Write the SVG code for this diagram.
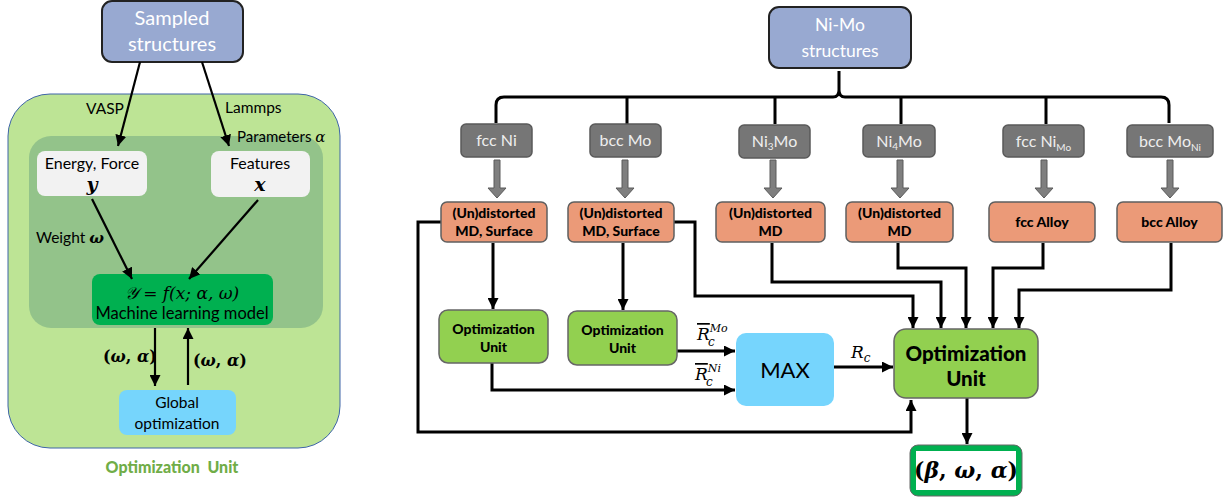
<svg xmlns="http://www.w3.org/2000/svg" width="1228" height="499" viewBox="0 0 1228 499">
<style>
.t{font-family:Lato,"Open Sans","Liberation Sans",sans-serif}
.m{font-family:"DejaVu Serif","Liberation Serif",serif;font-style:italic}
.mu{font-family:"DejaVu Serif","Liberation Serif",serif;font-style:normal;font-weight:bold}
.mu tspan{font-style:italic}
.wt{fill:#ffffff}
.ln{fill:none;stroke:#000;stroke-width:2.2;marker-end:url(#ah)}
.cn{fill:none;stroke:#000;stroke-width:3;marker-end:url(#ah)}
.gray rect{fill:#767676;stroke:#5a5a5a;stroke-width:1.5}
.gray text{fill:#eeeeee;font-size:16px}
.org rect{fill:#eb9a78;stroke:#5f5f5f;stroke-width:1.5}
.org text{font-size:14px;font-weight:900;fill:#000}
.opt rect{fill:#92d050;stroke:#666;stroke-width:1.5}
.opt text{font-weight:900}
.ga{fill:#7f7f7f;stroke:#5a5a5a;stroke-width:1}
</style>
<defs>
<marker id="ah" viewBox="0 0 10 10" refX="10" refY="5" markerWidth="11" markerHeight="11" markerUnits="userSpaceOnUse" orient="auto">
<path d="M0,0 L10,5 L0,10 Z" fill="#000"/>
</marker>
</defs>

<!-- LEFT DIAGRAM -->
<g id="opt-unit-frame">
<rect x="8" y="94" width="332" height="354" rx="42" fill="#bde495" stroke="#3e64a8" stroke-width="1"/>
<rect x="29" y="136" width="294" height="192" rx="22" fill="#93c38a"/>
<text class="t" x="172" y="473" text-anchor="middle" font-size="16" font-weight="900" fill="#70ad47" xml:space="preserve">Optimization  Unit</text>
</g>
<g id="sampled">
<rect x="102" y="1" width="141" height="61" rx="10" fill="#98a9d1" stroke="#222" stroke-width="2"/>
<text class="t wt" x="172" y="25" text-anchor="middle" font-size="20">Sampled</text>
<text class="t wt" x="172" y="51" text-anchor="middle" font-size="20">structures</text>
</g>
<g id="energy">
<rect x="37" y="151" width="110" height="45" rx="8" fill="#f2f2f2"/>
<text class="t" x="92" y="169" text-anchor="middle" font-size="16">Energy, Force</text>
<text class="m" x="92" y="191" text-anchor="middle" font-size="19" font-weight="bold">𝒚</text>
</g>
<g id="features">
<rect x="211" y="151" width="99" height="46" rx="8" fill="#f2f2f2"/>
<text class="t" x="260" y="169" text-anchor="middle" font-size="16">Features</text>
<text class="m" x="260" y="191" text-anchor="middle" font-size="19" font-weight="bold">x</text>
</g>
<g id="ml-model">
<rect x="92" y="274" width="181" height="51" rx="8" fill="#00b050"/>
<text class="m" x="182" y="299" text-anchor="middle" font-size="17">𝒴 = f(x; α, ω)</text>
<text class="t" x="182" y="319" text-anchor="middle" font-size="16.5">Machine learning model</text>
</g>
<g id="global-opt">
<rect x="119" y="390" width="117" height="45" rx="8" fill="#76d5fc"/>
<text class="t" x="177" y="408" text-anchor="middle" font-size="15.5">Global</text>
<text class="t" x="177" y="429" text-anchor="middle" font-size="15.5">optimization</text>
</g>
<g id="left-labels">
<text class="t" x="86" y="114" font-size="15.5">VASP</text>
<text class="t" x="225" y="113" font-size="15.5">Lammps</text>
<text class="t" x="237" y="142" font-size="15">Parameters <tspan class="m">α</tspan></text>
<text class="t" x="36" y="243" font-size="15.5">Weight <tspan class="m" font-weight="bold">ω</tspan></text>
<text class="mu" x="103" y="362" font-size="16">(<tspan>ω</tspan>, <tspan>α</tspan>)</text>
<text class="mu" x="193" y="366" font-size="16">(<tspan>ω</tspan>, <tspan>α</tspan>)</text>
</g>
<g id="left-connectors">
<path class="ln" d="M140,62 L118,146"/>
<path class="ln" d="M202,62 L229,146"/>
<path class="ln" d="M92,199 L132,279"/>
<path class="ln" d="M258,200 L189,279"/>
<path class="ln" d="M155,328 L155,386"/>
<path class="ln" d="M188,385 L188,328"/>
</g>

<!-- RIGHT DIAGRAM -->
<g id="nimo">
<rect x="769" y="7" width="142" height="61" rx="10" fill="#98a9d1" stroke="#222" stroke-width="2"/>
<text class="t wt" x="840" y="31" text-anchor="middle" font-size="17.5">Ni-Mo</text>
<text class="t wt" x="840" y="57" text-anchor="middle" font-size="17.5">structures</text>
</g>

<g id="connectors">
<path d="M496,123 L496,105 Q496,97 504,97 L833,97 Q839,97 839,90 L839,71 M839,90 Q839,97 845,97 L1161,97 Q1169,97 1169,105 L1169,123" fill="none" stroke="#000" stroke-width="3"/>
<path d="M627,97 V124 M775,97 V124 M901,97 V124 M1046,97 V124" fill="none" stroke="#000" stroke-width="3"/>
<g class="gas">
<path class="ga" d="M494,160 h6 v28 h6 l-9,10 l-9,-10 h6 z"/>
<path class="ga" d="M622,160 h6 v28 h6 l-9,10 l-9,-10 h6 z"/>
<path class="ga" d="M770,160 h6 v28 h6 l-9,10 l-9,-10 h6 z"/>
<path class="ga" d="M897,160 h6 v28 h6 l-9,10 l-9,-10 h6 z"/>
<path class="ga" d="M1041,160 h6 v28 h6 l-9,10 l-9,-10 h6 z"/>
<path class="ga" d="M1167,160 h6 v28 h6 l-9,10 l-9,-10 h6 z"/>
</g>
<path class="cn" d="M493,243 V309"/>
<path class="cn" d="M623,243 V310"/>
<path class="cn" d="M441,222 H418 V432 H911 V400"/>
<path class="cn" d="M674,222 H695 V296 H913 V328"/>
<path class="cn" d="M772,243 V282 H941 V328"/>
<path class="cn" d="M898,243 V268 H966 V328"/>
<path class="cn" d="M1043,243 V268 H993 V328"/>
<path class="cn" d="M1171,243 V290 H1019 V328"/>
<path class="cn" d="M492,363 V390 H735"/>
<path class="cn" d="M677,351 H735"/>
<path class="cn" d="M834,367 H893"/>
<path class="cn" d="M967,398 V444"/>
</g>

<g id="fccNi" class="gray"><rect x="461" y="124" width="71" height="33" rx="5"/><text class="t" x="496.5" y="146" text-anchor="middle">fcc Ni</text></g>
<g id="bccMo" class="gray"><rect x="590" y="124" width="71" height="33" rx="5"/><text class="t" x="625.5" y="146" text-anchor="middle">bcc Mo</text></g>
<g id="Ni3Mo" class="gray"><rect x="739" y="125" width="71" height="33" rx="5"/><text class="t" x="774.5" y="147" text-anchor="middle">Ni<tspan font-size="10" dy="3">3</tspan><tspan dy="-3">Mo</tspan></text></g>
<g id="Ni4Mo" class="gray"><rect x="863" y="125" width="72" height="32" rx="5"/><text class="t" x="899" y="147" text-anchor="middle">Ni<tspan font-size="10" dy="3">4</tspan><tspan dy="-3">Mo</tspan></text></g>
<g id="fccNiMo" class="gray"><rect x="1003" y="125" width="81" height="32" rx="5"/><text class="t" x="1043.5" y="147" text-anchor="middle">fcc Ni<tspan font-size="10" dy="4">Mo</tspan></text></g>
<g id="bccMoNi" class="gray"><rect x="1127" y="125" width="86" height="32" rx="5"/><text class="t" x="1170" y="147" text-anchor="middle">bcc Mo<tspan font-size="10" dy="4">Ni</tspan></text></g>

<g id="md1" class="org"><rect x="441" y="202" width="106" height="40" rx="6"/><text class="t" x="494" y="218" text-anchor="middle">(Un)distorted</text><text class="t" x="494" y="236" text-anchor="middle">MD, Surface</text></g>
<g id="md2" class="org"><rect x="568" y="202" width="106" height="40" rx="6"/><text class="t" x="621" y="218" text-anchor="middle">(Un)distorted</text><text class="t" x="621" y="236" text-anchor="middle">MD, Surface</text></g>
<g id="md3" class="org"><rect x="716" y="202" width="109" height="40" rx="6"/><text class="t" x="770.5" y="218" text-anchor="middle">(Un)distorted</text><text class="t" x="770.5" y="236" text-anchor="middle">MD</text></g>
<g id="md4" class="org"><rect x="846" y="202" width="107" height="40" rx="6"/><text class="t" x="899.5" y="218" text-anchor="middle">(Un)distorted</text><text class="t" x="899.5" y="236" text-anchor="middle">MD</text></g>
<g id="fccAlloy" class="org"><rect x="989" y="202" width="106" height="40" rx="6"/><text class="t" x="1042" y="227" text-anchor="middle">fcc Alloy</text></g>
<g id="bccAlloy" class="org"><rect x="1117" y="202" width="105" height="40" rx="6"/><text class="t" x="1169.5" y="227" text-anchor="middle">bcc Alloy</text></g>

<g id="opt1" class="opt"><rect x="439" y="310" width="109" height="53" rx="9"/><text class="t" x="493.5" y="334" text-anchor="middle" font-size="14">Optimization</text><text class="t" x="493.5" y="352" text-anchor="middle" font-size="14">Unit</text></g>
<g id="opt2" class="opt"><rect x="568" y="311" width="109" height="54" rx="9"/><text class="t" x="622.5" y="335" text-anchor="middle" font-size="14">Optimization</text><text class="t" x="622.5" y="353" text-anchor="middle" font-size="14">Unit</text></g>
<g id="max"><rect x="736" y="333" width="98" height="73" rx="10" fill="#76d5fd"/><text class="t" x="785" y="378" text-anchor="middle" font-size="22">MAX</text></g>
<g id="optBig" class="opt"><rect x="894" y="329" width="144" height="69" rx="12"/><text class="t" x="966" y="361" text-anchor="middle" font-size="20.5">Optimization</text><text class="t" x="966" y="386" text-anchor="middle" font-size="20.5">Unit</text></g>
<g id="result"><rect x="910" y="445" width="112" height="51" rx="8" fill="#00b050" stroke="#666" stroke-width="1"/><rect x="916" y="451" width="100" height="39" fill="#fff"/><text class="mu" x="966" y="478" text-anchor="middle" font-size="22">(<tspan>β</tspan>, <tspan>ω</tspan>, <tspan>α</tspan>)</text></g>

<g id="edge-labels">
<text class="m" x="697" y="340" font-size="17"><tspan text-decoration="overline">R</tspan><tspan font-size="11" dy="-8">Mo</tspan></text>
<text class="m" x="708" y="346" font-size="12">c</text>
<text class="m" x="695" y="380" font-size="17"><tspan text-decoration="overline">R</tspan><tspan font-size="11" dy="-8">Ni</tspan></text>
<text class="m" x="706" y="386" font-size="12">c</text>
<text class="m" x="851" y="358" font-size="17">R<tspan font-size="12" dy="4">c</tspan></text>
</g>
</svg>
